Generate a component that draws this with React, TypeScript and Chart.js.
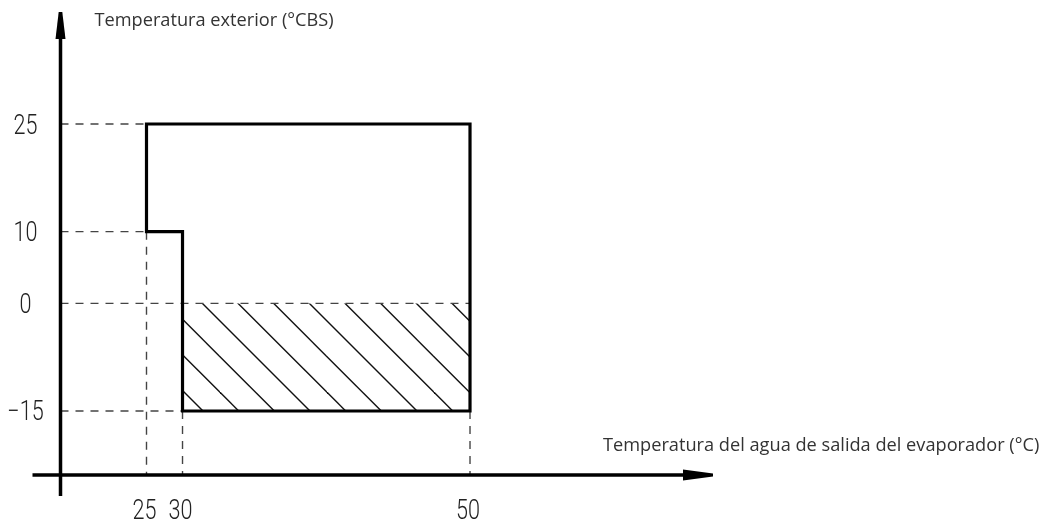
import React, { useEffect, useRef } from "react";
import { Chart, registerables, LinearScale } from "chart.js";

// ---- data -----------------------------------------------------------------
const X_TICKS = [25, 30, 50]; // water outlet temperature (°C)
const Y_TICKS = [-15, 0, 10, 25]; // outdoor temperature (°C DB)

// operating envelope outline (closed polygon)
const ENVELOPE_X = [25, 50, 50, 30, 30, 25, 25];
const ENVELOPE_Y = [25, 25, -15, -15, 10, 10, 25];

// hatched zone (x range, top and bottom levels)
const HATCH_X = [30, 50];
const HATCH_TOP = 0;
const HATCH_BOTTOM = -15;

// dashed reference lines: horizontal (level, end x) and vertical (x, start level)
const H_GUIDE_LEVELS = [25, 10, 0, -15];
const H_GUIDE_ENDS = [25, 25, 50, 30];
const V_GUIDE_XS = [25, 30, 50];
const V_GUIDE_STARTS = [10, -15, -15];

const X_TITLE = "Temperatura del agua de salida del evaporador (°C)";
const Y_TITLE = "Temperatura exterior (°CBS)";

// ---- scale ranges -----------------------------------------------------------
const Y_MIN = -23.92;
const Y_MAX = 40.61;
const X_MIN = 13;
const X_MAX = 67;
// the horizontal axis is a schematic one: piecewise linear between these knots
const X_KNOTS: [number, number][] = [
  [X_MIN, 0],
  [25, 0.1318],
  [30, 0.187],
  [50, 0.6276],
  [X_MAX, 1],
];

class SegmentedScale extends LinearScale {
  static id = "segmented";
  static defaults = {};

  toDecimal(value: number) {
    const k = X_KNOTS;
    if (value <= k[0][0]) return k[0][1] + ((value - k[0][0]) * (k[1][1] - k[0][1])) / (k[1][0] - k[0][0]);
    for (let i = 1; i < k.length; i++) {
      if (value <= k[i][0] || i === k.length - 1) {
        const [v0, d0] = k[i - 1];
        const [v1, d1] = k[i];
        return d0 + ((value - v0) * (d1 - d0)) / (v1 - v0);
      }
    }
    return 1;
  }

  fromDecimal(dec: number) {
    const k = X_KNOTS;
    for (let i = 1; i < k.length; i++) {
      if (dec <= k[i][1] || i === k.length - 1) {
        const [v0, d0] = k[i - 1];
        const [v1, d1] = k[i];
        return v0 + ((dec - d0) * (v1 - v0)) / (d1 - d0);
      }
    }
    return X_MAX;
  }

  getPixelForValue(value: number) {
    if (value === null || value === undefined || isNaN(value)) return NaN;
    return this.getPixelForDecimal(this.toDecimal(value));
  }

  getValueForPixel(pixel: number) {
    return this.fromDecimal(this.getDecimalForPixel(pixel));
  }
}

Chart.register(...registerables, SegmentedScale);

const NUM_FONT = '300 27px Roboto, "DejaVu Sans Condensed", sans-serif';
const TEXT_FONT = '18.2px "Open Sans", "Noto Sans", sans-serif';

const fmt = (v: number) => (v < 0 ? "\u2212" + Math.abs(v) : String(v));

function makeHatchPattern(ctx: CanvasRenderingContext2D) {
  const S = 107;
  const c = document.createElement("canvas");
  c.width = S;
  c.height = S;
  const g = c.getContext("2d")!;
  g.strokeStyle = "#111";
  g.lineWidth = 1.4;
  for (let i = 0; i < 3; i++) {
    for (let k = -1; k <= 1; k++) {
      const o = (i * S) / 3 + k * S;
      g.beginPath();
      g.moveTo(o - 6, -6);
      g.lineTo(o + S + 6, S + 6);
      g.stroke();
    }
  }
  const pat = ctx.createPattern(c, "repeat")!;
  pat.setTransform(new DOMMatrix().translate(6, 0));
  return pat;
}

// narrow drafting-style tick numbers, placed from the scales' own ticks
function drawNarrow(ctx: CanvasRenderingContext2D, text: string, cx: number, baseline: number) {
  const squeeze = 0.8;
  ctx.save();
  ctx.translate(cx, baseline);
  ctx.scale(squeeze, 1);
  ctx.textAlign = "center";
  ctx.textBaseline = "alphabetic";
  ctx.fillText(text, 0, 0);
  ctx.restore();
}

// axes with arrow heads, tick numbers and the two axis titles
const axesPlugin = {
  id: "arrowAxes",
  afterDatasetsDraw(chart: any) {
    const { ctx, chartArea, scales } = chart;
    const x0 = chartArea.left;
    const y0 = chartArea.bottom;
    const top = chartArea.top;
    const right = chartArea.right;
    ctx.save();
    ctx.fillStyle = "#000";
    ctx.strokeStyle = "#000";
    ctx.lineWidth = 3.5;
    ctx.lineCap = "butt";
    // vertical axis
    ctx.beginPath();
    ctx.moveTo(x0, y0 + 21);
    ctx.lineTo(x0, top + 26);
    ctx.stroke();
    ctx.beginPath();
    ctx.moveTo(x0 - 1.8, top);
    ctx.lineTo(x0 + 1.8, top);
    ctx.lineTo(x0 + 5, top + 27);
    ctx.lineTo(x0 - 5, top + 27);
    ctx.closePath();
    ctx.fill();
    // horizontal axis
    ctx.beginPath();
    ctx.moveTo(x0 - 28, y0);
    ctx.lineTo(right - 28, y0);
    ctx.stroke();
    ctx.beginPath();
    ctx.moveTo(right, y0 - 1.5);
    ctx.lineTo(right, y0 + 1.5);
    ctx.lineTo(right - 30, y0 + 5.5);
    ctx.lineTo(right - 30, y0 - 5.5);
    ctx.closePath();
    ctx.fill();

    // tick numbers
    ctx.fillStyle = "#222";
    ctx.font = NUM_FONT;
    const ys = scales.y;
    ys.ticks.forEach((t: any, i: number) => {
      const py = ys.getPixelForTick(i);
      drawNarrow(ctx, fmt(t.value), x0 - 35, py + 9.5);
    });
    const xs = scales.x;
    xs.ticks.forEach((t: any, i: number) => {
      const px = xs.getPixelForTick(i);
      drawNarrow(ctx, fmt(t.value), px - 2, y0 + 44);
    });

    // titles
    ctx.fillStyle = "#333";
    ctx.font = TEXT_FONT;
    ctx.textBaseline = "alphabetic";
    ctx.textAlign = "left";
    ctx.fillText(Y_TITLE, x0 + 34, top + 14);
    ctx.fillText(X_TITLE, right - 110, y0 - 24);
    ctx.restore();
  },
};

export default function App() {
  const ref = useRef<HTMLCanvasElement>(null);

  useEffect(() => {
    const canvas = ref.current!;
    const ctx = canvas.getContext("2d")!;
    const hatch = makeHatchPattern(ctx);

    const dash = {
      type: "line" as const,
      borderColor: "#444",
      borderWidth: 1.4,
      borderDash: [8, 7],
      pointRadius: 0,
      fill: false,
      order: 1,
    };

    const hGuides = H_GUIDE_LEVELS.map((lvl, i) => ({
      ...dash,
      data: [
        { x: X_MIN, y: lvl },
        { x: H_GUIDE_ENDS[i], y: lvl },
      ],
    }));
    const vGuides = V_GUIDE_XS.map((xv, i) => ({
      ...dash,
      data: [
        { x: xv, y: V_GUIDE_STARTS[i] },
        { x: xv, y: Y_MIN },
      ],
    }));

    const chart = new Chart(canvas, {
      type: "line",
      data: {
        datasets: [
          {
            data: ENVELOPE_X.map((x, i) => ({ x, y: ENVELOPE_Y[i] })),
            borderColor: "#000",
            borderWidth: 3.2,
            borderJoinStyle: "miter",
            borderCapStyle: "square",
            pointRadius: 0,
            fill: false,
            tension: 0,
            order: 0,
          },
          {
            data: HATCH_X.map((x) => ({ x, y: HATCH_TOP })),
            borderWidth: 0,
            borderColor: "rgba(0,0,0,0)",
            backgroundColor: hatch,
            pointRadius: 0,
            fill: { value: HATCH_BOTTOM },
            order: 2,
          },
          ...hGuides,
          ...vGuides,
        ] as any,
      },
      options: {
        animation: false,
        responsive: false,
        events: [],
        layout: { padding: { top: 12, right: 343, bottom: 0, left: 0 } },
        plugins: {
          legend: { display: false },
          tooltip: { enabled: false },
        },
        scales: {
          x: {
            type: "segmented" as any,
            min: X_MIN,
            max: X_MAX,
            grid: { display: false, drawTicks: false },
            border: { display: false },
            ticks: { display: false, autoSkip: false },
            afterBuildTicks: (s: any) => {
              s.ticks = X_TICKS.map((value) => ({ value }));
            },
            afterFit: (s: any) => {
              s.height = 55;
              s.paddingLeft = 0;
              s.paddingRight = 0;
            },
          } as any,
          y: {
            type: "linear",
            min: Y_MIN,
            max: Y_MAX,
            grid: { display: false, drawTicks: false },
            border: { display: false },
            ticks: { display: false, autoSkip: false },
            afterBuildTicks: (s: any) => {
              s.ticks = Y_TICKS.map((value) => ({ value }));
            },
            afterFit: (s: any) => {
              s.width = 60.5;
              s.paddingTop = 0;
              s.paddingBottom = 0;
            },
          },
        },
      },
      plugins: [axesPlugin],
    });
    return () => chart.destroy();
  }, []);

  return (
    <div style={{ position: "absolute", left: 0, top: 0, width: 1056, height: 530, background: "#fff" }}>
      <canvas ref={ref} width={1056} height={530} style={{ display: "block" }} />
    </div>
  );
}
